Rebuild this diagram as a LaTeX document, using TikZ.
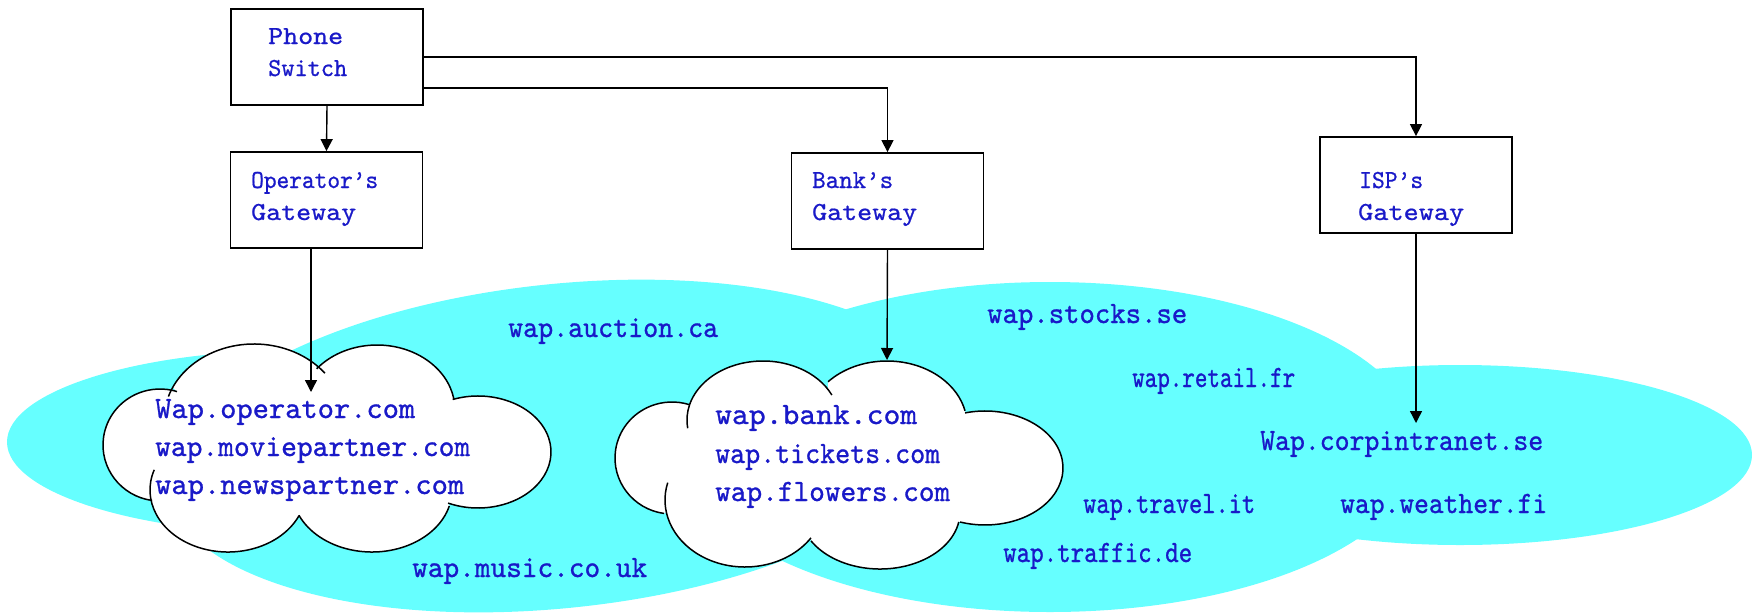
\documentclass[tikz,border=0pt]{standalone}
\usepackage{graphicx}
\usepackage{fontspec}
\usetikzlibrary{arrows.meta}
\newfontfamily\lmonob[FakeBold=0.7]{lmmono10-regular.otf}
\newfontfamily\lmonol[FakeBold=0.9]{lmmono10-regular.otf}
\definecolor{txt}{RGB}{25,25,200}
\definecolor{cy}{RGB}{102,255,255}
\newcommand\tw[2]{\resizebox{#1pt}{\height}{#2}}
\begin{document}
\begin{tikzpicture}[x=1pt,y=-1pt,
  gbox/.style={draw, line width=1.8pt, minimum width=192pt, minimum height=96pt, inner sep=0pt},
  conn/.style={line width=1.4pt, -{Triangle[length=12pt,width=12pt]}},
  btxt/.style={anchor=base west, inner sep=0pt, text=txt, font=\lmonob\fontsize{26}{30}\selectfont},
  ltxt/.style={anchor=base west, inner sep=0pt, text=txt, font=\lmonol\fontsize{31}{36}\selectfont},
  cloudline/.style={line width=1.5pt}]
\useasboundingbox (0,0) rectangle (1757,614);
% cyan regions
\fill[cy] (300,442) ellipse [x radius=293, y radius=92];
\fill[cy, rotate around={6:(560,446)}] (560,446) ellipse [x radius=395, y radius=162];
\fill[cy] (1050,447) ellipse [x radius=370, y radius=165];
\fill[cy] (1460,455) ellipse [x radius=292, y radius=90];
% cloud 1
\fill[white]
  ([shift={(254,420)}]205.5:90 and 76) arc[start angle=205.5, end angle=313.7, x radius=90, y radius=76]
  -- ([shift={(377,410)}]219.3:78 and 65) arc[start angle=219.3, end angle=348.3, x radius=78, y radius=65]
  -- ([shift={(478,452)}]249.7:73 and 56) arc[start angle=249.7, end angle=474.2, x radius=73, y radius=56]
  -- ([shift={(372,490)}]15:80 and 62) arc[start angle=15, end angle=156, x radius=80, y radius=62]
  -- ([shift={(228,490)}]24.5:78 and 62) arc[start angle=24.5, end angle=180, x radius=78, y radius=62]
  -- ([shift={(160,445)}]98:57 and 56) arc[start angle=98, end angle=287.4, x radius=57, y radius=56]
  -- cycle;
\draw[cloudline] ([shift={(254,420)}]198:90 and 76) arc[start angle=198, end angle=322, x radius=90, y radius=76];
\draw[cloudline] ([shift={(377,410)}]219.3:78 and 65) arc[start angle=219.3, end angle=350, x radius=78, y radius=65];
\draw[cloudline] ([shift={(478,452)}]249.7:73 and 56) arc[start angle=249.7, end angle=474.2, x radius=73, y radius=56];
\draw[cloudline] ([shift={(372,490)}]15:80 and 62) arc[start angle=15, end angle=156, x radius=80, y radius=62];
\draw[cloudline] ([shift={(228,490)}]24.5:78 and 62) arc[start angle=24.5, end angle=199, x radius=78, y radius=62];
\draw[cloudline] ([shift={(160,445)}]98:57 and 56) arc[start angle=98, end angle=287.4, x radius=57, y radius=56];
% cloud 2
\fill[white]
  ([shift={(763,420)}]193:76 and 59) arc[start angle=193, end angle=328.8, x radius=76, y radius=59]
  -- ([shift={(887,425)}]222.5:80 and 64) arc[start angle=222.5, end angle=347.2, x radius=80, y radius=64]
  -- ([shift={(985,468)}]255.2:78 and 57) arc[start angle=255.2, end angle=468.7, x radius=78, y radius=57]
  -- ([shift={(880,512)}]10:80 and 57) arc[start angle=10, end angle=149.6, x radius=80, y radius=57]
  -- ([shift={(745,500)}]34.4:80 and 67) arc[start angle=34.4, end angle=169, x radius=80, y radius=67]
  -- ([shift={(672,458)}]98:57 and 56) arc[start angle=98, end angle=287.4, x radius=57, y radius=56]
  -- cycle;
\draw[cloudline] ([shift={(763,420)}]172:76 and 59) arc[start angle=172, end angle=335, x radius=76, y radius=59];
\draw[cloudline] ([shift={(887,425)}]222.5:80 and 64) arc[start angle=222.5, end angle=347.2, x radius=80, y radius=64];
\draw[cloudline] ([shift={(985,468)}]255.2:78 and 57) arc[start angle=255.2, end angle=468.7, x radius=78, y radius=57];
\draw[cloudline] ([shift={(880,512)}]10:80 and 57) arc[start angle=10, end angle=149.6, x radius=80, y radius=57];
\draw[cloudline] ([shift={(745,500)}]34.4:80 and 67) arc[start angle=34.4, end angle=195, x radius=80, y radius=67];
\draw[cloudline] ([shift={(672,458)}]98:57 and 56) arc[start angle=98, end angle=287.4, x radius=57, y radius=56];
% labels
\node[ltxt] (l1) at (155,418) {\tw{260}{Wap.operator.com}};
\node[ltxt] (l2) at (155,456) {\tw{315}{wap.moviepartner.com}};
\node[ltxt] (l3) at (155,494) {\tw{309}{wap.newspartner.com}};
\node[ltxt] (l4) at (715,424) {\tw{202}{wap.bank.com}};
\node[ltxt] (l5) at (715,463) {\tw{225}{wap.tickets.com}};
\node[ltxt] (l6) at (715,501) {\tw{235}{wap.flowers.com}};
\node[ltxt] (l7) at (508,337) {\tw{210}{wap.auction.ca}};
\node[ltxt] (l8) at (412,577) {\tw{235}{wap.music.co.uk}};
\node[ltxt] (l9) at (987,323) {\tw{200}{wap.stocks.se}};
\node[ltxt] (l10) at (1132,387) {\tw{163}{wap.retail.fr}};
\node[ltxt] (l11) at (1260,450) {\tw{283}{Wap.corpintranet.se}};
\node[ltxt] (l12) at (1083,513) {\tw{172}{wap.travel.it}};
\node[ltxt] (l13) at (1340,513) {\tw{207}{wap.weather.fi}};
\node[ltxt] (l14) at (1003,562) {\tw{189}{wap.traffic.de}};
% boxes
\node[gbox] (ps) at (327,57) {};
\node[gbox] (op) at (326.5,200) {};
\node[gbox] (bank) at (887.5,201) {};
\node[gbox] (isp) at (1416,185) {};
\node[btxt] (b1) at (268,44) {\tw{75}{Phone}};
\node[btxt] (b2) at (268,76) {\tw{79}{Switch}};
\node[btxt] (b3) at (251,188) {\tw{127}{Operator’s}};
\node[btxt] (b4) at (251,220) {\tw{105}{Gateway}};
\node[btxt] (b5) at (812,188) {\tw{81}{Bank’s}};
\node[btxt] (b6) at (812,220) {\tw{105}{Gateway}};
\node[btxt] (b7) at (1359,188) {\tw{64}{ISP’s}};
\node[btxt] (b8) at (1358,220) {\tw{106}{Gateway}};
% connectors
\coordinate (c1tip) at (311,392);
\coordinate (c2tip) at (887,360);
\coordinate (dtip) at (1416,423);
\draw[conn] (ps.south) -- (op.north);
\draw[conn] (ps.east) -| (isp.north);
\draw[conn] ([yshift=-31pt]ps.east) -| (bank.north);
\draw[conn] (c1tip |- op.south) -- (c1tip);
\draw[conn] (bank.south) -- (c2tip);
\draw[conn] (isp.south) -- (dtip);
\end{tikzpicture}
\end{document}
